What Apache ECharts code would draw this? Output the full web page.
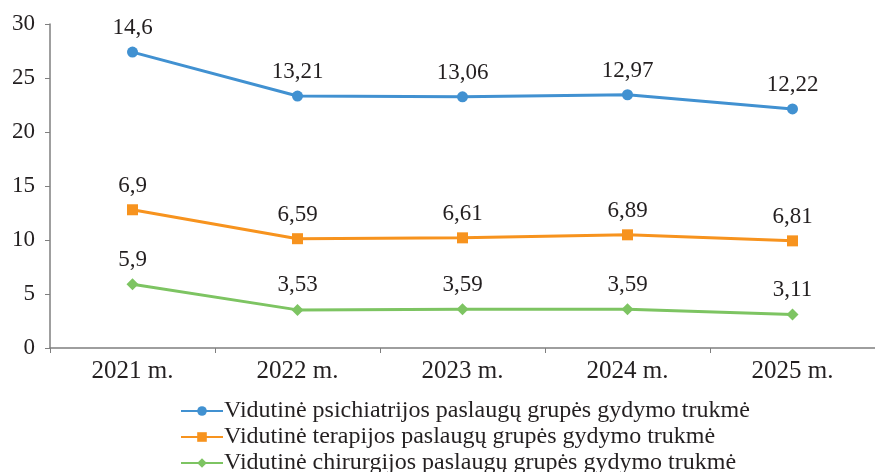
<!DOCTYPE html>
<html>
<head>
<meta charset="utf-8">
<script src="https://cdn.jsdelivr.net/npm/echarts@6/dist/echarts.min.js"></script>
<style>
  html, body { margin: 0; padding: 0; background: #fff; }
  #chart { width: 875px; height: 472px; }
</style>
</head>
<body>
<div id="chart"></div>
<script>
var years = ["2021 m.", "2022 m.", "2023 m.", "2024 m.", "2025 m."];
var psichiatrija = [14.6, 13.21, 13.06, 12.97, 12.22];
var terapija = [6.9, 6.59, 6.61, 6.89, 6.81];
var chirurgija = [5.9, 3.53, 3.59, 3.59, 3.11];
var yTicks = [0, 5, 10, 15, 20, 25, 30];

var names = [
  "Vidutinė psichiatrijos paslaugų grupės gydymo trukmė",
  "Vidutinė terapijos paslaugų grupės gydymo trukmė",
  "Vidutinė chirurgijos paslaugų grupės gydymo trukmė"
];

var font = "'Liberation Serif', 'DejaVu Serif', serif";

function label() {
  return {
    show: true,
    position: "top",
    distance: 7,
    fontFamily: font,
    fontSize: 23,
    color: "#231f20",
    formatter: function (p) {
      return String(p.value).replace(".", ",");
    }
  };
}

var myChart = echarts.init(document.getElementById("chart"));
var option = {
  animation: false,
  grid: {
    left: 50,
    right: -11,
    top: 24,
    bottom: 124
  },
  legend: {
    orient: "vertical",
    left: 175,
    top: 394,
    height: 80,
    itemWidth: 42,
    itemHeight: 12,
    itemGap: 2,
    data: names,
    textStyle: {
      fontFamily: font,
      fontSize: 24,
      lineHeight: 24,
      color: "#231f20",
      padding: [0, 0, 0, -4]
    }
  },
  xAxis: {
    type: "category",
    data: years,
    axisLine: { lineStyle: { color: "#7f7f7f", width: 1.5 } },
    axisTick: { show: true, length: 5, lineStyle: { color: "#7f7f7f" } },
    axisLabel: {
      fontFamily: font,
      fontSize: 25,
      color: "#231f20",
      margin: 11
    }
  },
  yAxis: {
    type: "value",
    min: yTicks[0],
    max: yTicks[yTicks.length - 1],
    interval: 5,
    splitLine: { show: false },
    axisLine: { show: true, lineStyle: { color: "#7f7f7f", width: 1.5 } },
    axisTick: { show: true, length: 5, lineStyle: { color: "#7f7f7f" } },
    axisLabel: {
      fontFamily: font,
      fontSize: 23,
      color: "#231f20",
      margin: 15
    }
  },
  series: [
    {
      name: names[2],
      type: "line",
      stack: "total",
      data: chirurgija,
      symbol: "diamond",
      symbolSize: 12,
      itemStyle: { color: "#7dc462" },
      lineStyle: { width: 3, color: "#7dc462" },
      label: label()
    },
    {
      name: names[1],
      type: "line",
      stack: "total",
      data: terapija,
      symbol: "rect",
      symbolSize: 11,
      itemStyle: { color: "#f7931e" },
      lineStyle: { width: 3, color: "#f7931e" },
      label: label()
    },
    {
      name: names[0],
      type: "line",
      stack: "total",
      data: psichiatrija,
      symbol: "circle",
      symbolSize: 11,
      itemStyle: { color: "#4191d1" },
      lineStyle: { width: 3, color: "#4191d1" },
      label: label()
    }
  ]
};
myChart.setOption(option);
</script>
</body>
</html>
